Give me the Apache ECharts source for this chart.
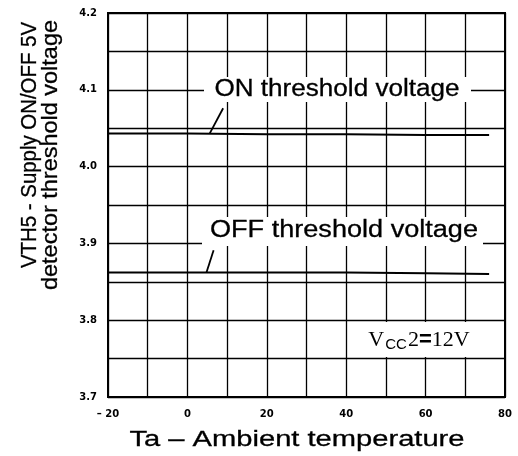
<!DOCTYPE html>
<html>
<head>
<meta charset="utf-8">
<script src="https://cdn.jsdelivr.net/npm/echarts@6/dist/echarts.min.js"></script>
<style>
  html, body { margin: 0; padding: 0; background: #fff; }
  #chart { width: 518px; height: 456px; }
</style>
</head>
<body>
<div id="chart"></div>
<script>
// Ambient temperature (°C) at which the thresholds were read
const temps = [-20, 0, 20, 40, 60, 76];
// Supply ON/OFF 5V detector thresholds (V)
const onThreshold = [4.043, 4.043, 4.042, 4.042, 4.041, 4.041];
const offThreshold = [3.862, 3.862, 3.862, 3.862, 3.861, 3.860];
// Leader strokes from each caption down to its curve, [temp, volts]
const onLeader = [[9.0, 4.076], [5.6, 4.043]];
const offLeader = [[6.6, 3.891], [4.8, 3.862]];
// Axis ranges and tick labels
const xTicks = [-20, 0, 20, 40, 60, 80];
const yTicks = [3.7, 3.8, 3.9, 4.0, 4.1, 4.2];

const chart = echarts.init(document.getElementById('chart'), null, { renderer: 'canvas' });

// horizontal stretch so a caption spans the wanted width
const measureCtx = document.createElement('canvas').getContext('2d');
function stretch(text, size, family, width) {
  measureCtx.font = size + 'px ' + family;
  return width / measureCtx.measureText(text).width;
}

const SANS = '"Liberation Sans", Arial, sans-serif';
const SERIF = '"Liberation Serif", "Times New Roman", serif';

function caption(text, x, y, size, width, extra) {
  return Object.assign({
    type: 'text', x: x, y: y, z: 60,
    scaleX: stretch(text, size, SANS, width),
    style: {
      text: text, fontSize: size, fontFamily: SANS, fill: '#000',
      stroke: '#000', lineWidth: 0.3,
      align: 'center', verticalAlign: 'middle',
      textAlign: 'center', textVerticalAlign: 'middle'
    }
  }, extra || {});
}

function whiteBox(x1, y1, x2, y2) {
  return { type: 'rect', z: 55, shape: { x: x1, y: y1, width: x2 - x1, height: y2 - y1 },
           style: { fill: '#fff' } };
}

const leaderStyle = { color: '#000', width: 1.8, type: 'solid' };
const tickFont = { color: '#000', fontFamily: '"DejaVu Sans", sans-serif', fontWeight: 'bold', fontSize: 10 };

const option = {
  animation: false,
  backgroundColor: '#fff',
  grid: { left: 108, right: 13, top: 13, bottom: 59, show: true,
          borderColor: '#000', borderWidth: 2, backgroundColor: 'transparent' },
  xAxis: {
    type: 'value', min: xTicks[0], max: xTicks[xTicks.length - 1], interval: 10,
    axisLine: { show: true, onZero: false, lineStyle: { color: '#000', width: 2 } },
    axisTick: { show: false },
    splitLine: { show: true, lineStyle: { color: '#000', width: 1.3 } },
    axisLabel: Object.assign({
      margin: 12,
      formatter: v => xTicks.includes(v) ? (v < 0 ? '\u2013 ' + Math.abs(v) : String(v)) : ''
    }, tickFont)
  },
  yAxis: {
    type: 'value', min: yTicks[0], max: yTicks[yTicks.length - 1], interval: 0.05,
    axisLine: { show: true, onZero: false, lineStyle: { color: '#000', width: 2 } },
    axisTick: { show: false },
    splitLine: { show: true, lineStyle: { color: '#000', width: 1.3 } },
    axisLabel: Object.assign({
      margin: 11,
      formatter: v => yTicks.some(t => Math.abs(t - v) < 1e-6) ? v.toFixed(1) : ''
    }, tickFont)
  },
  series: [
    {
      name: 'ON threshold voltage', type: 'line', z: 80,
      data: temps.map((t, i) => [t, onThreshold[i]]),
      showSymbol: false, lineStyle: { color: '#000', width: 2 },
      markLine: { silent: true, symbol: 'none', label: { show: false }, lineStyle: leaderStyle,
                  data: [[{ coord: onLeader[0] }, { coord: onLeader[1] }]] }
    },
    {
      name: 'OFF threshold voltage', type: 'line', z: 80,
      data: temps.map((t, i) => [t, offThreshold[i]]),
      showSymbol: false, lineStyle: { color: '#000', width: 2 },
      markLine: { silent: true, symbol: 'none', label: { show: false }, lineStyle: leaderStyle,
                  data: [[{ coord: offLeader[0] }, { coord: offLeader[1] }]] }
    }
  ],
  graphic: [
    // curve captions on white patches over the grid
    whiteBox(204, 77, 471, 102),
    caption('ON threshold voltage', 337, 90, 23, 245),
    whiteBox(202, 217, 483, 246),
    caption('OFF threshold voltage', 344, 231, 23, 268),
    // supply condition
    whiteBox(358, 322, 478, 357),
    {
      type: 'text', x: 419, y: 340, z: 60,
      style: {
        text: '{a|V}{b|CC}{a|2}{c|=}{a|12V}',
        align: 'center', verticalAlign: 'middle',
        textAlign: 'center', textVerticalAlign: 'middle',
        rich: {
          a: { fontSize: 22, fontFamily: SERIF, fill: '#000', color: '#000' },
          b: { fontSize: 15, fontFamily: SANS, fill: '#000', color: '#000', padding: [9, 1, 0, 1] },
          c: { fontSize: 22, fontFamily: SANS, fontWeight: 'bold', fill: '#000', color: '#000' }
        }
      }
    },
    // axis titles
    caption('Ta \u2013 Ambient temperature', 297, 440, 22, 335, { z: 10 }),
    caption('VTH5 - Supply ON/OFF 5V', 30, 145, 22, 246,
            { rotation: Math.PI / 2, z: 10 }),
    caption('detector threshold voltage', 51, 155, 22, 270,
            { rotation: Math.PI / 2, z: 10 })
  ]
};

chart.setOption(option);
</script>
</body>
</html>
